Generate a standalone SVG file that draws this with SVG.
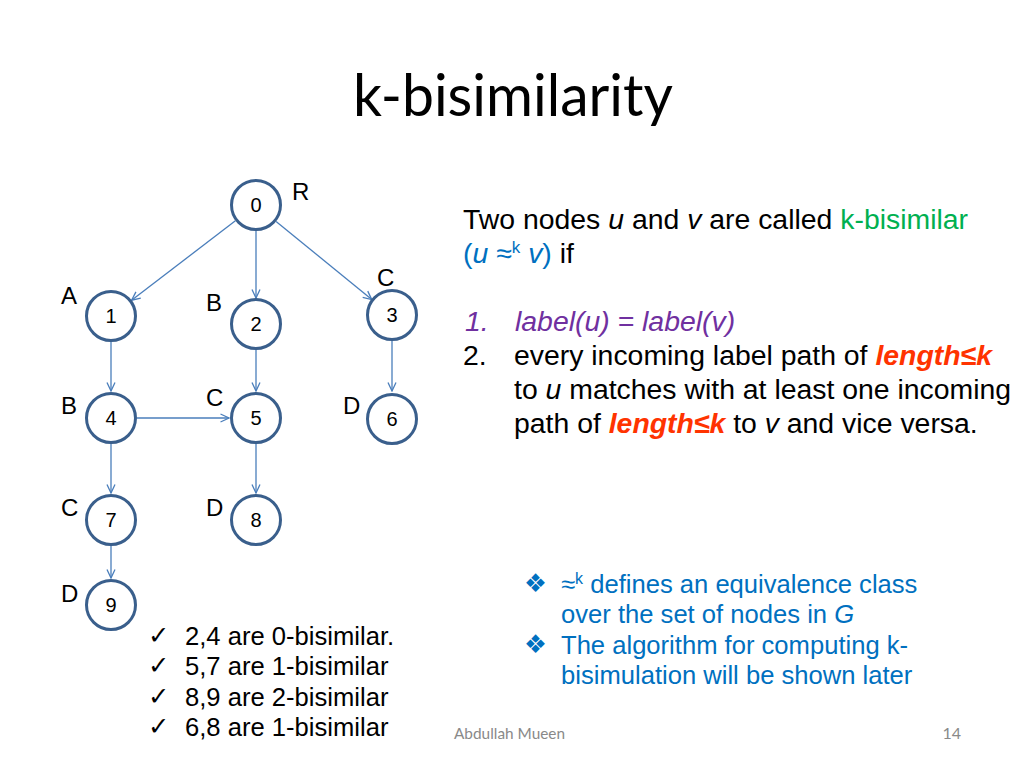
<svg xmlns="http://www.w3.org/2000/svg" width="1024" height="768" viewBox="0 0 1024 768">
<style>
.bg{fill:#ffffff}
.node circle{fill:#ffffff;stroke:#3A5F8C;stroke-width:3}
.num{font-family:"Liberation Sans",Arial,sans-serif;font-size:20px;fill:#000;text-anchor:middle}
.lab{font-family:"Liberation Sans",Arial,sans-serif;font-size:24px;fill:#000}
.edge{stroke:#4A7EBB;stroke-width:1.3;fill:none;marker-end:url(#arr)}
.title{font-family:Lato,"Open Sans",sans-serif;font-size:58px;fill:#000}
.body{font-family:"Liberation Sans",Arial,sans-serif;font-size:28.4px;fill:#000}
.sm{font-family:"Liberation Sans",Arial,sans-serif;font-size:25.6px;fill:#000}
.blue{fill:#0070C0}
.green{fill:#00B050}
.purple{fill:#7030A0}
.red{fill:#FF3300;font-weight:bold;font-style:italic}
.it{font-style:italic}
.foot{font-family:Lato,"Open Sans",sans-serif;font-size:16px;fill:#898989}
.sym{font-family:"DejaVu Sans",sans-serif}
</style>
<defs>
<marker id="arr" viewBox="0 0 10 10" refX="9.5" refY="5" markerWidth="10" markerHeight="10" markerUnits="userSpaceOnUse" orient="auto">
<path d="M1,1 L9.5,5 L1,9" fill="none" stroke="#4A7EBB" stroke-width="1.3"/>
</marker>
</defs>
<rect class="bg" x="0" y="0" width="1024" height="768"/>
<text class="title" x="353" y="116" textLength="320" lengthAdjust="spacingAndGlyphs">k-bisimilarity</text>

<g id="edges">
<line class="edge" x1="235.4" y1="220.8" x2="131.6" y2="300.2"/>
<line class="edge" x1="256" y1="231" x2="256" y2="298"/>
<line class="edge" x1="276.1" y1="221.4" x2="371.8" y2="299.6"/>
<line class="edge" x1="111" y1="342" x2="111" y2="391"/>
<line class="edge" x1="256" y1="350" x2="256" y2="391"/>
<line class="edge" x1="392" y1="341" x2="392" y2="391"/>
<line class="edge" x1="137" y1="418" x2="229" y2="418"/>
<line class="edge" x1="111" y1="444" x2="111" y2="493"/>
<line class="edge" x1="256" y1="444" x2="256" y2="493"/>
<line class="edge" x1="111" y1="546" x2="111" y2="578"/>
</g>

<g id="node0" class="node"><circle cx="256" cy="205" r="24.5"/><text class="num" x="256" y="212">0</text><text class="lab" x="292" y="200">R</text></g>
<g id="node1" class="node"><circle cx="111" cy="316" r="24.5"/><text class="num" x="111" y="323">1</text><text class="lab" x="61" y="304">A</text></g>
<g id="node2" class="node"><circle cx="256" cy="324" r="24.5"/><text class="num" x="256" y="331">2</text><text class="lab" x="206" y="311">B</text></g>
<g id="node3" class="node"><circle cx="392" cy="315" r="24.5"/><text class="num" x="392" y="322">3</text><text class="lab" x="377" y="286">C</text></g>
<g id="node4" class="node"><circle cx="111" cy="418" r="24.5"/><text class="num" x="111" y="425">4</text><text class="lab" x="61" y="414">B</text></g>
<g id="node5" class="node"><circle cx="256" cy="418" r="24.5"/><text class="num" x="256" y="425">5</text><text class="lab" x="206" y="406">C</text></g>
<g id="node6" class="node"><circle cx="392" cy="419" r="24.5"/><text class="num" x="392" y="426">6</text><text class="lab" x="343" y="414">D</text></g>
<g id="node7" class="node"><circle cx="111" cy="520" r="24.5"/><text class="num" x="111" y="527">7</text><text class="lab" x="61" y="516">C</text></g>
<g id="node8" class="node"><circle cx="256" cy="520" r="24.5"/><text class="num" x="256" y="527">8</text><text class="lab" x="206" y="516">D</text></g>
<g id="node9" class="node"><circle cx="111" cy="605" r="24.5"/><text class="num" x="111" y="612">9</text><text class="lab" x="61" y="602">D</text></g>

<g id="definition">
<text class="body" x="463" y="229">Two nodes <tspan class="it">u</tspan> and <tspan class="it">v</tspan> are called <tspan class="green">k-bisimilar</tspan></text>
<text class="body" x="463" y="263"><tspan class="blue">(<tspan class="it">u</tspan> ≈<tspan font-size="17" dy="-10">k</tspan><tspan dy="10"> </tspan><tspan class="it">v</tspan>)</tspan> if</text>
<text class="body purple it" x="465" y="331">1.</text>
<text class="body purple it" x="515" y="331">label(u) = label(v)</text>
<text class="body" x="463" y="365">2.</text>
<text class="body" x="514" y="365">every incoming label path of <tspan class="red">length≤k</tspan></text>
<text class="body" x="514" y="399">to <tspan class="it">u</tspan> matches with at least one incoming</text>
<text class="body" x="514" y="433">path of <tspan class="red">length≤k</tspan> to <tspan class="it">v</tspan> and vice versa.</text>
</g>

<g id="notes">
<text class="sm blue sym" x="524" y="592" font-size="20">❖</text>
<text class="sm blue" x="561" y="593">≈<tspan font-size="16" dy="-9">k</tspan><tspan dy="9"> defines an equivalence class</tspan></text>
<text class="sm blue" x="561" y="623">over the set of nodes in <tspan class="it">G</tspan></text>
<text class="sm blue sym" x="524" y="653" font-size="20">❖</text>
<text class="sm blue" x="561" y="654">The algorithm for computing k-</text>
<text class="sm blue" x="561" y="684">bisimulation will be shown later</text>
</g>

<g id="checklist">
<text class="sm sym" x="148" y="644" font-size="20">✓</text>
<text class="sm" x="185" y="645">2,4 are 0-bisimilar.</text>
<text class="sm sym" x="148" y="674" font-size="20">✓</text>
<text class="sm" x="185" y="675">5,7 are 1-bisimilar</text>
<text class="sm sym" x="148" y="705" font-size="20">✓</text>
<text class="sm" x="185" y="706">8,9 are 2-bisimilar</text>
<text class="sm sym" x="148" y="735" font-size="20">✓</text>
<text class="sm" x="185" y="736">6,8 are 1-bisimilar</text>
</g>

<text class="foot" x="454" y="739" textLength="111" lengthAdjust="spacingAndGlyphs">Abdullah Mueen</text>
<text class="foot" x="961" y="739" text-anchor="end">14</text>
</svg>
